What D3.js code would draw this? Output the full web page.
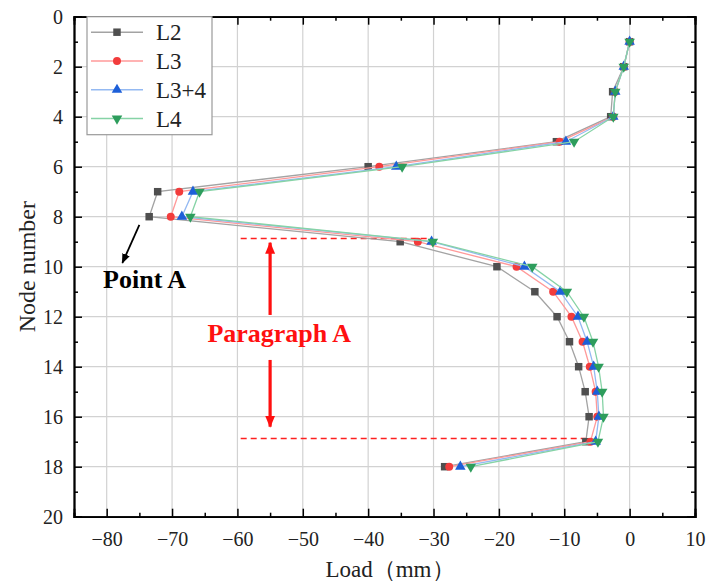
<!DOCTYPE html>
<html>
<head>
<meta charset="utf-8">
<script src="https://cdn.jsdelivr.net/npm/d3@7"></script>
<style>
  body { margin: 0; background: #fff; }
  svg { display: block; font-family: "Liberation Serif", "Times New Roman", serif; }
</style>
</head>
<body>
<div id="chart"></div>
<script>
// node numbers along the pile and the load of each case at that node
const nodes = [1, 2, 3, 4, 5, 6, 7, 8, 9, 10, 11, 12, 13, 14, 15, 16, 17, 18];
const loadL2  = [0, -0.9, -2.6, -2.9, -11.2, -40.0, -72.2, -73.5, -35.1, -20.3, -14.5, -11.1, -9.2, -7.8, -6.8, -6.2, -6.7, -28.3];
const loadL3  = [0, -0.9, -2.2, -2.5, -10.7, -38.3, -68.9, -70.2, -32.4, -17.3, -11.7, -8.9, -7.2, -6.1, -5.2, -4.95, -6.0, -27.6];
const loadL34 = [0, -0.9, -2.2, -2.5, -9.75, -35.7, -66.8, -68.5, -30.3, -16.1, -10.6, -7.9, -6.5, -5.5, -4.95, -4.7, -5.2, -25.9];
const loadL4  = [0, -0.9, -2.2, -2.5, -8.5, -34.8, -65.8, -67.2, -30.1, -14.9, -9.6, -7.0, -5.6, -4.75, -4.2, -4.0, -4.85, -24.3];

const seriesNames = ['L2', 'L3', 'L3+4', 'L4'];
const xTicks = [-80, -70, -60, -50, -40, -30, -20, -10, 0, 10];
const yTicks = [0, 2, 4, 6, 8, 10, 12, 14, 16, 18, 20];

// annotations (data units)
const paragraphLines = [[-59.5, -31, 8.87], [-59.5, -6.7, 16.87]];   // x0, x1, node
const paragraphArrowX = -55;
const paragraphArrows = [[11.93, 9.04], [13.73, 16.4]];              // from node, to node
const paragraphLabel = { x: -53.6, y: 13.0, text: 'Paragraph A' };
const pointArrow = [[-75.0, 8.33], [-77.6, 9.85]];
const pointLabel = { x: -80.55, y: 10.84, text: 'Point A' };

const width = 721;
const height = 586;
const margin = { top: 16.7, right: 26, bottom: 69.3, left: 74 };
const innerWidth = width - margin.left - margin.right;
const innerHeight = height - margin.top - margin.bottom;

const styles = [
  { line: '#a3a3a3', fill: '#4f4f4f', symbol: d3.symbolSquare, size: 56 },
  { line: '#ff9a9a', fill: '#f23c3c', symbol: d3.symbolCircle, size: 50 },
  { line: '#94b9f2', fill: '#1d5fd8', symbol: d3.symbolTriangle, size: 48 },
  { line: '#86d3a6', fill: '#2d9d5c', symbol: d3.symbolTriangle, size: 48, flip: true }
];
const seriesValues = [loadL2, loadL3, loadL34, loadL4];

const svgRoot = d3.select('#chart')
  .append('svg')
  .attr('width', width)
  .attr('height', height);

const defs = svgRoot.append('defs');
defs.append('marker')
  .attr('id', 'redHead')
  .attr('markerUnits', 'userSpaceOnUse')
  .attr('viewBox', '0 0 12 12')
  .attr('refX', 11).attr('refY', 6)
  .attr('markerWidth', 12).attr('markerHeight', 12)
  .attr('orient', 'auto')
  .append('path').attr('d', 'M0,1 L12,6 L0,11 Z').attr('fill', '#ff1010');
defs.append('marker')
  .attr('id', 'blackHead')
  .attr('markerUnits', 'userSpaceOnUse')
  .attr('viewBox', '0 0 10 10')
  .attr('refX', 9).attr('refY', 5)
  .attr('markerWidth', 10).attr('markerHeight', 10)
  .attr('orient', 'auto')
  .append('path').attr('d', 'M0,1 L10,5 L0,9 Z').attr('fill', '#000');

const svg = svgRoot.append('g')
  .attr('transform', `translate(${margin.left},${margin.top})`);

const x = d3.scaleLinear().domain([-85, 10]).range([0, innerWidth]);
const y = d3.scaleLinear().domain([0, 20]).range([0, innerHeight]);

// grid
svg.append('g')
  .selectAll('line')
  .data(xTicks.filter(d => d < 10))
  .enter().append('line')
  .attr('x1', d => x(d)).attr('x2', d => x(d))
  .attr('y1', 0).attr('y2', innerHeight)
  .attr('stroke', '#d2d2d2').attr('stroke-width', 1.2);
svg.append('g')
  .selectAll('line')
  .data(yTicks.filter(d => d > 0 && d < 20))
  .enter().append('line')
  .attr('y1', d => y(d)).attr('y2', d => y(d))
  .attr('x1', 0).attr('x2', innerWidth)
  .attr('stroke', '#d2d2d2').attr('stroke-width', 1.2);

// dashed bounds of paragraph A
svg.append('g')
  .selectAll('line')
  .data(paragraphLines)
  .enter().append('line')
  .attr('x1', d => x(d[0])).attr('x2', d => x(d[1]))
  .attr('y1', d => y(d[2])).attr('y2', d => y(d[2]))
  .attr('stroke', '#ff2020').attr('stroke-width', 1.6)
  .attr('stroke-dasharray', '6,4');

// series
const line = d3.line()
  .x(d => x(d.v))
  .y(d => y(d.n));

seriesValues.forEach((vals, i) => {
  const data = nodes.map((n, j) => ({ n, v: vals[j] }));
  const st = styles[i];
  svg.append('path')
    .datum(data)
    .attr('fill', 'none')
    .attr('stroke', st.line)
    .attr('stroke-width', 1.3)
    .attr('d', line);
  svg.append('g')
    .selectAll('path')
    .data(data)
    .enter().append('path')
    .attr('d', d3.symbol().type(st.symbol).size(st.size))
    .attr('transform', d => `translate(${x(d.v)},${y(d.n)})${st.flip ? ' rotate(180)' : ''}`)
    .attr('fill', st.fill);
});

// axes: ticks point inward on all four sides
const fmt = d3.format('');
const xMinor = d3.range(-85, 10, 10);
const yMinor = d3.range(1, 20, 2);
const axes = [
  { ax: d3.axisBottom(x).tickValues(xTicks).tickSize(-8).tickPadding(15).tickFormat(fmt), pos: `translate(0,${innerHeight})`, labels: true },
  { ax: d3.axisTop(x).tickValues(xTicks).tickSize(-8), pos: 'translate(0,0)' },
  { ax: d3.axisLeft(y).tickValues(yTicks).tickSize(-8).tickPadding(11).tickFormat(fmt), pos: 'translate(0,0)', labels: true },
  { ax: d3.axisRight(y).tickValues(yTicks).tickSize(-8), pos: `translate(${innerWidth},0)` },
  { ax: d3.axisBottom(x).tickValues(xMinor).tickSize(-4), pos: `translate(0,${innerHeight})` },
  { ax: d3.axisTop(x).tickValues(xMinor).tickSize(-4), pos: 'translate(0,0)' },
  { ax: d3.axisLeft(y).tickValues(yMinor).tickSize(-4), pos: 'translate(0,0)' },
  { ax: d3.axisRight(y).tickValues(yMinor).tickSize(-4), pos: `translate(${innerWidth},0)` }
];
axes.forEach(a => {
  const g = svg.append('g').attr('transform', a.pos).call(a.ax);
  g.select('.domain').attr('stroke', '#000').attr('stroke-width', 1.8);
  g.selectAll('.tick line').attr('stroke', '#000').attr('stroke-width', 1.5);
  if (a.labels) {
    g.selectAll('.tick text')
      .attr('font-family', '"Liberation Serif", serif')
      .attr('font-size', 20)
      .attr('fill', '#222');
  } else {
    g.selectAll('.tick text').remove();
  }
});

// axis titles
svgRoot.append('text')
  .attr('x', 390)
  .attr('y', 577)
  .attr('text-anchor', 'middle')
  .attr('font-size', 23)
  .attr('fill', '#222')
  .text('Load（mm）');

svgRoot.append('text')
  .attr('transform', `translate(35,${margin.top + innerHeight / 2}) rotate(-90)`)
  .attr('text-anchor', 'middle')
  .attr('font-size', 24)
  .attr('fill', '#222')
  .text('Node number');

// paragraph arrows and label
svg.append('g')
  .selectAll('line')
  .data(paragraphArrows)
  .enter().append('line')
  .attr('x1', x(paragraphArrowX)).attr('x2', x(paragraphArrowX))
  .attr('y1', d => y(d[0])).attr('y2', d => y(d[1]))
  .attr('stroke', '#ff1010').attr('stroke-width', 3.2)
  .attr('marker-end', 'url(#redHead)');

svg.append('text')
  .attr('x', x(paragraphLabel.x))
  .attr('y', y(paragraphLabel.y))
  .attr('text-anchor', 'middle')
  .attr('font-size', 26)
  .attr('font-weight', 'bold')
  .attr('fill', '#ff1010')
  .text(paragraphLabel.text);

svg.append('line')
  .attr('x1', x(pointArrow[0][0])).attr('y1', y(pointArrow[0][1]))
  .attr('x2', x(pointArrow[1][0])).attr('y2', y(pointArrow[1][1]))
  .attr('stroke', '#000').attr('stroke-width', 1.8)
  .attr('marker-end', 'url(#blackHead)');

svg.append('text')
  .attr('x', x(pointLabel.x))
  .attr('y', y(pointLabel.y))
  .attr('font-size', 26)
  .attr('font-weight', 'bold')
  .attr('fill', '#000')
  .text(pointLabel.text);

// legend
const legend = svg.append('g').attr('transform', 'translate(13,0)');
legend.append('rect')
  .attr('x', 0).attr('y', 0)
  .attr('width', 125).attr('height', 118)
  .attr('fill', '#fff')
  .attr('stroke', '#9a9a9a').attr('stroke-width', 1.2);

seriesNames.forEach((name, i) => {
  const st = styles[i];
  const row = legend.append('g').attr('transform', `translate(0,${15.5 + i * 28.8})`);
  row.append('line')
    .attr('x1', 4).attr('x2', 56)
    .attr('stroke', st.line).attr('stroke-width', 1.5);
  row.append('path')
    .attr('d', d3.symbol().type(st.symbol).size(st.size))
    .attr('transform', `translate(30,0)${st.flip ? ' rotate(180)' : ''}`)
    .attr('fill', st.fill);
  row.append('text')
    .attr('x', 69).attr('y', 0)
    .attr('dy', '0.36em')
    .attr('font-size', 23)
    .attr('fill', '#222')
    .text(name);
});
</script>
</body>
</html>
